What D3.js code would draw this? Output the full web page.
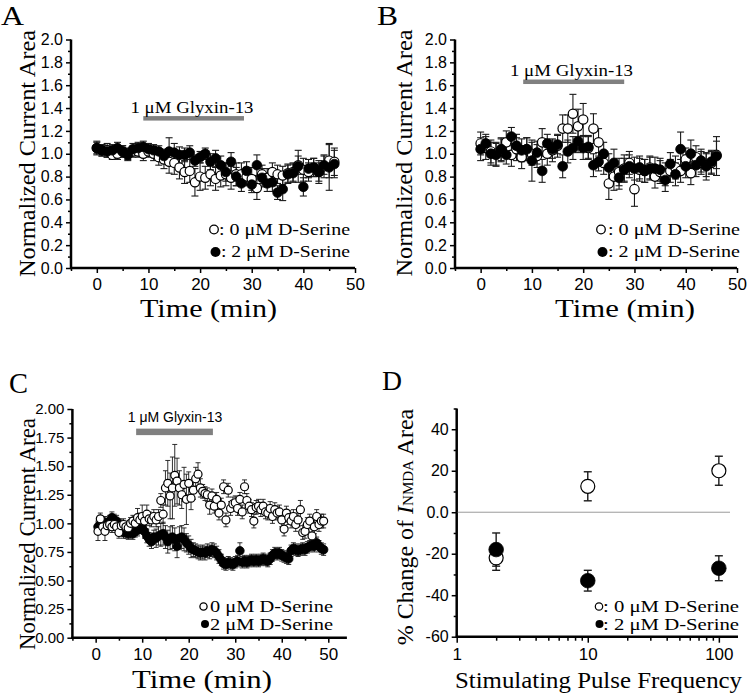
<!DOCTYPE html>
<html><head><meta charset="utf-8">
<script src="https://cdn.jsdelivr.net/npm/d3@7"></script>
<style>
body{margin:0;background:#fff}
svg{display:block}
</style></head><body>
<svg id="c" width="750" height="693"></svg>
<script>
// ---------------- DATA ----------------
const abTime = [0,1,2,3,4,5,6,7,8,9,10,11,12,13,14,15,16,17,18,19,20,21,22,23,24,25,26,27,28,29,30,31,32,33,34,35,36,37,38,39,40,41,42,43,44,45,46];
// Panel A
const aOpenVal = [1.05,1.03,1.03,0.99,1.00,1.02,1.00,1.02,1.02,1.00,1.02,1.00,0.97,0.95,0.93,0.92,0.88,0.84,0.85,0.75,0.80,0.79,0.82,0.78,0.81,0.82,0.79,0.82,0.82,0.80,0.78,0.70,0.82,0.79,0.84,0.82,0.81,0.83,0.84,0.90,0.86,0.84,0.88,0.84,0.89,0.94,0.93];
const aOpenErr = [0.06,0.05,0.06,0.04,0.05,0.05,0.05,0.05,0.05,0.06,0.05,0.06,0.07,0.08,0.10,0.10,0.10,0.10,0.10,0.12,0.12,0.10,0.10,0.10,0.10,0.10,0.10,0.10,0.10,0.08,0.10,0.10,0.08,0.08,0.08,0.08,0.08,0.08,0.08,0.08,0.10,0.08,0.08,0.10,0.10,0.15,0.12];
const aFillVal = [1.05,1.03,1.02,1.03,1.05,1.02,0.99,1.04,1.05,1.06,1.04,1.03,1.02,0.98,1.02,1.01,0.99,0.99,1.01,0.94,0.97,1.00,0.93,0.96,0.90,0.84,0.93,0.80,0.74,0.85,0.73,0.90,0.79,0.74,0.75,0.66,0.69,0.82,0.83,0.89,0.71,0.87,0.88,0.84,0.90,0.88,0.91];
const aFillErr = [0.05,0.05,0.05,0.05,0.05,0.05,0.05,0.05,0.05,0.05,0.05,0.05,0.05,0.06,0.12,0.08,0.07,0.06,0.06,0.05,0.05,0.05,0.07,0.07,0.08,0.08,0.08,0.08,0.07,0.08,0.07,0.09,0.08,0.07,0.08,0.06,0.10,0.08,0.08,0.14,0.08,0.08,0.08,0.08,0.08,0.20,0.12];
// Panel B
const bOpenVal = [1.09,1.05,1.02,1.00,1.03,1.10,0.99,1.04,0.97,1.04,1.00,0.98,1.10,1.00,1.03,1.07,1.22,1.22,1.35,1.24,1.30,1.05,1.22,1.10,0.92,0.74,0.80,0.84,0.87,0.92,0.69,0.86,0.85,0.88,0.80,0.84,0.82,0.85,0.88,0.85,0.95,0.83,0.97,0.92,0.90,0.92,0.99];
const bOpenErr = [0.10,0.10,0.10,0.10,0.10,0.10,0.10,0.10,0.10,0.10,0.10,0.10,0.12,0.10,0.10,0.10,0.12,0.12,0.17,0.15,0.14,0.10,0.13,0.12,0.10,0.14,0.12,0.12,0.12,0.10,0.15,0.10,0.10,0.10,0.10,0.10,0.10,0.10,0.10,0.10,0.10,0.10,0.10,0.10,0.10,0.10,0.12];
const bFillVal = [1.04,1.09,1.00,0.99,1.04,0.99,1.15,1.07,1.03,1.04,0.94,1.01,0.85,1.09,1.04,1.08,0.89,1.02,1.05,1.11,1.05,1.06,0.90,0.93,1.00,0.88,0.92,0.79,0.86,0.89,0.87,0.88,0.85,0.87,0.87,0.86,0.77,0.91,0.82,1.04,0.89,1.00,0.90,0.94,0.89,0.93,0.98];
const bFillErr = [0.10,0.08,0.10,0.10,0.10,0.08,0.08,0.10,0.10,0.10,0.18,0.10,0.10,0.08,0.08,0.08,0.10,0.10,0.10,0.10,0.10,0.10,0.10,0.08,0.10,0.12,0.12,0.10,0.10,0.10,0.10,0.10,0.10,0.10,0.10,0.10,0.10,0.10,0.10,0.15,0.10,0.12,0.10,0.10,0.12,0.10,0.17];
// Panel C
const cTime = [0.5,1,1.5,2,2.5,3,3.5,4,4.5,5,5.5,6,6.5,7,7.5,8,8.5,9,9.5,10,10.5,11,11.5,12,12.5,13,13.5,14,14.5,15,15.5,16,16.5,17,17.5,18,18.5,19,19.5,20,20.5,21,21.5,22,22.5,23,23.5,24,24.5,25,25.5,26,26.5,27,27.5,28,28.5,29,29.5,30,30.5,31,31.5,32,32.5,33,33.5,34,34.5,35,35.5,36,36.5,37,37.5,38,38.5,39,39.5,40,40.5,41,41.5,42,42.5,43,43.5,44,44.5,45,45.5,46,46.5,47,47.5,48,48.5,49];
const cOpenVal = [0.93,1.04,0.97,0.93,0.98,0.99,0.97,0.99,0.97,0.92,0.98,0.99,0.97,0.96,1.00,1.02,1.00,1.05,1.03,1.06,1.02,1.08,1.04,1.03,1.06,1.03,1.06,1.20,1.08,1.31,1.35,1.24,1.31,1.42,1.37,1.31,1.25,1.34,1.21,1.35,1.22,1.29,1.39,1.43,1.31,1.28,1.26,1.25,1.16,1.24,1.15,1.21,1.09,1.16,1.32,1.03,1.29,1.13,1.17,1.18,1.13,1.21,1.10,1.32,1.20,1.15,1.12,1.02,1.14,1.15,1.12,1.15,1.10,1.09,1.13,1.06,1.12,1.09,1.10,1.03,0.95,1.09,1.05,1.02,1.06,0.99,1.03,1.12,0.92,0.93,0.99,1.02,0.89,0.97,1.06,0.99,1.02,1.02];
const cOpenErr = [0.08,0.05,0.05,0.08,0.05,0.05,0.05,0.05,0.05,0.05,0.05,0.05,0.05,0.05,0.05,0.05,0.06,0.08,0.06,0.10,0.06,0.08,0.06,0.06,0.06,0.06,0.06,0.06,0.08,0.15,0.20,0.20,0.27,0.27,0.20,0.15,0.12,0.15,0.22,0.10,0.10,0.08,0.10,0.10,0.08,0.06,0.06,0.06,0.08,0.06,0.06,0.06,0.06,0.06,0.06,0.06,0.06,0.06,0.06,0.06,0.06,0.06,0.06,0.06,0.06,0.06,0.06,0.06,0.06,0.06,0.06,0.06,0.06,0.06,0.06,0.06,0.06,0.06,0.06,0.06,0.06,0.06,0.06,0.06,0.06,0.06,0.06,0.08,0.06,0.06,0.06,0.06,0.06,0.06,0.06,0.06,0.06,0.06];
const cFillVal = [0.97,0.99,1.00,1.01,0.99,1.02,1.05,1.03,1.02,0.99,0.94,0.92,0.92,0.91,0.92,0.91,0.93,0.94,0.96,0.98,0.93,0.89,0.86,0.84,0.88,0.87,0.89,0.90,0.91,0.88,0.84,0.87,0.88,0.86,0.80,0.87,0.88,0.86,0.83,0.81,0.78,0.77,0.76,0.75,0.74,0.75,0.74,0.76,0.75,0.77,0.76,0.74,0.71,0.68,0.65,0.64,0.66,0.65,0.64,0.66,0.67,0.76,0.66,0.67,0.66,0.67,0.68,0.67,0.68,0.67,0.68,0.69,0.68,0.67,0.69,0.72,0.74,0.73,0.74,0.72,0.71,0.70,0.69,0.76,0.78,0.77,0.76,0.77,0.78,0.77,0.79,0.80,0.81,0.80,0.83,0.80,0.78,0.77];
const cFillErr = [0.05,0.05,0.05,0.05,0.05,0.05,0.05,0.05,0.05,0.05,0.05,0.05,0.05,0.05,0.05,0.05,0.05,0.05,0.05,0.05,0.06,0.06,0.06,0.06,0.06,0.08,0.08,0.10,0.10,0.10,0.10,0.10,0.10,0.10,0.10,0.10,0.10,0.10,0.08,0.08,0.08,0.06,0.06,0.06,0.06,0.06,0.06,0.06,0.06,0.06,0.06,0.06,0.06,0.05,0.05,0.05,0.05,0.05,0.05,0.05,0.05,0.07,0.05,0.05,0.05,0.05,0.05,0.05,0.05,0.05,0.05,0.05,0.05,0.05,0.05,0.05,0.05,0.05,0.05,0.05,0.05,0.05,0.05,0.05,0.05,0.05,0.05,0.05,0.05,0.05,0.05,0.05,0.05,0.05,0.05,0.05,0.05,0.05];
// Panel D
const dFreq = [2,10,100];
const dOpenVal = [-22,12.5,20];
const dOpenErr = [6,7,7];
const dFillVal = [-18,-33,-27];
const dFillErr = [8,5,6];
// Labels
const yTicksAB = [0,0.2,0.4,0.6,0.8,1.0,1.2,1.4,1.6,1.8,2.0];
const yTicksC = [0,0.25,0.5,0.75,1.0,1.25,1.5,1.75,2.0];
const xTicksAB = [0,10,20,30,40,50];
const yTicksD = [-60,-40,-20,0,20,40];
const xTicksD = [1,10,100];
const legendOpen = "0 μM D-Serine";
const legendFill = "2 μM D-Serine";
const drugLabel = "1 μM Glyxin-13";

// ---------------- DRAW ----------------
const SANS = '"Liberation Sans", Arial, sans-serif';
const SERIF = '"Liberation Serif", "Times New Roman", serif';
const svg = d3.select("#c");

function stext(p, x, y, str, size, len, opts = {}) {
  const t = p.append("text").attr("x", x).attr("y", y)
    .attr("font-family", opts.family || SERIF).attr("font-size", size)
    .attr("fill", "#000").text(str);
  if (len) t.attr("textLength", len).attr("lengthAdjust", "spacingAndGlyphs");
  if (opts.anchor) t.attr("text-anchor", opts.anchor);
  return t;
}

function axes(g, x, y, o) {
  const [x0, x1] = x.range();
  const [yb, yt] = y.range();
  g.append("g").attr("transform", `translate(${x0},0)`)
    .call(d3.axisLeft(y).tickValues(o.yMinor).tickSize(3).tickFormat(""))
    .call(s => s.select(".domain").remove());
  g.append("g").attr("transform", `translate(0,${yb})`)
    .call(d3.axisBottom(x).tickValues(o.xMinor).tickSize(o.xMinorLen || 3).tickFormat(""))
    .call(s => s.select(".domain").remove());
  const ya = g.append("g").attr("transform", `translate(${x0},0)`)
    .call(d3.axisLeft(y).tickValues(o.yTicks).tickSize(5).tickPadding(3).tickFormat(o.yFmt))
    .call(s => s.select(".domain").remove());
  ya.selectAll("text").attr("font-family", SANS).attr("font-size", o.yFont).attr("fill", "#000");
  const xa = g.append("g").attr("transform", `translate(0,${yb})`)
    .call(d3.axisBottom(x).tickValues(o.xTicks).tickSize(o.xMajorLen || 5).tickPadding(o.xPad || 5).tickFormat(d3.format("d")))
    .call(s => s.select(".domain").remove());
  xa.selectAll("text").attr("font-family", SANS).attr("font-size", o.xFont).attr("fill", "#000");
  g.selectAll(".tick line").attr("stroke", "#000").attr("stroke-width", 1.5);
  g.append("line").attr("x1", x0).attr("x2", x0).attr("y1", yb + 1).attr("y2", yt).attr("stroke", "#000").attr("stroke-width", 2.5);
  g.append("line").attr("x1", x0 - 1).attr("x2", x1).attr("y1", yb).attr("y2", yb).attr("stroke", "#000").attr("stroke-width", 2.5);
}

function errorBars(g, x, y, t, v, e, cap, sw) {
  const d = t.map((tt, i) => ({ t: tt, v: v[i], e: e[i] }));
  const eg = g.append("g").attr("stroke", "#1a1a1a").attr("stroke-width", sw || 1.1);
  eg.selectAll(".v").data(d).join("line")
    .attr("x1", d => x(d.t)).attr("x2", d => x(d.t))
    .attr("y1", d => y(d.v - d.e)).attr("y2", d => y(d.v + d.e));
  eg.selectAll(".ct").data(d).join("line").attr("class", "ct")
    .attr("x1", d => x(d.t) - cap / 2).attr("x2", d => x(d.t) + cap / 2)
    .attr("y1", d => y(d.v + d.e)).attr("y2", d => y(d.v + d.e));
  eg.selectAll(".cb").data(d).join("line").attr("class", "cb")
    .attr("x1", d => x(d.t) - cap / 2).attr("x2", d => x(d.t) + cap / 2)
    .attr("y1", d => y(d.v - d.e)).attr("y2", d => y(d.v - d.e));
}

function markers(g, x, y, t, v, r, open) {
  g.append("g").selectAll("circle").data(t.map((tt, i) => [tt, v[i]])).join("circle")
    .attr("cx", d => x(d[0])).attr("cy", d => y(d[1])).attr("r", r)
    .attr("fill", open ? "#fff" : "#000").attr("stroke", "#000").attr("stroke-width", open ? 1.2 : 0.8);
}

function drugBar(g, x, y, t0, t1, lvl, h) {
  g.append("rect").attr("x", x(t0)).attr("width", x(t1) - x(t0))
    .attr("y", y(lvl) - h / 2).attr("height", h).attr("fill", "#808080");
}

function ylabel(g, cx, cy, str, size, len) {
  stext(g, 0, 0, str, size, len, { anchor: "middle" })
    .attr("transform", `translate(${cx},${cy}) rotate(-90)`);
}

// ---- Panel A ----
{
  const g = svg.append("g");
  const x = d3.scaleLinear().domain([-5, 50]).range([71, 355]);
  const y = d3.scaleLinear().domain([0, 2]).range([268, 39.5]);
  axes(g, x, y, { yTicks: yTicksAB, yMinor: d3.range(0.1, 2, 0.2), xTicks: xTicksAB, xMinor: [-5, 5, 15, 25, 35, 45],
    yFmt: d3.format(".1f"), yFont: 16, xFont: 17 });
  errorBars(g, x, y, abTime, aOpenVal, aOpenErr, 7);
  errorBars(g, x, y, abTime, aFillVal, aFillErr, 7);
  markers(g, x, y, abTime, aOpenVal, 4.6, true);
  markers(g, x, y, abTime, aFillVal, 4.8, false);
  drugBar(g, x, y, 9.0, 28.5, 1.31, 4.5);
  stext(g, 130.5, 113, drugLabel, 16, 123);
  g.append("circle").attr("cx", 214).attr("cy", 229.5).attr("r", 4.3).attr("fill", "#fff").attr("stroke", "#000").attr("stroke-width", 1.3);
  stext(g, 219, 234.5, ": " + legendOpen, 16, 131);
  g.append("circle").attr("cx", 215.5).attr("cy", 252).attr("r", 5).attr("fill", "#000");
  stext(g, 221, 257, ": " + legendFill, 16, 129);
  stext(g, 140, 317, "Time (min)", 25, 137);
  ylabel(g, 35, 153.5, "Normalized Current Area", 24, 247);
  stext(g, 1, 25, "A", 28, 23);
}

// ---- Panel B ----
{
  const g = svg.append("g");
  const x = d3.scaleLinear().domain([-5, 50]).range([455, 737]);
  const y = d3.scaleLinear().domain([0, 2]).range([268, 39.5]);
  axes(g, x, y, { yTicks: yTicksAB, yMinor: d3.range(0.1, 2, 0.2), xTicks: xTicksAB, xMinor: [-5, 5, 15, 25, 35, 45],
    yFmt: d3.format(".1f"), yFont: 16, xFont: 17 });
  errorBars(g, x, y, abTime, bOpenVal, bOpenErr, 7);
  errorBars(g, x, y, abTime, bFillVal, bFillErr, 7);
  markers(g, x, y, abTime, bOpenVal, 4.7, true);
  markers(g, x, y, abTime, bFillVal, 4.9, false);
  drugBar(g, x, y, 8.3, 28.0, 1.63, 4.5);
  stext(g, 510, 76, drugLabel, 16, 123);
  g.append("circle").attr("cx", 601).attr("cy", 229.5).attr("r", 4.3).attr("fill", "#fff").attr("stroke", "#000").attr("stroke-width", 1.3);
  stext(g, 608, 234.5, " : " + legendOpen, 16, 132);
  g.append("circle").attr("cx", 602.5).attr("cy", 252).attr("r", 5).attr("fill", "#000");
  stext(g, 608, 257, " : " + legendFill, 16, 132);
  stext(g, 555, 317, "Time (min)", 25, 140);
  ylabel(g, 412, 153, "Normalized Current Area", 24, 247);
  stext(g, 377, 25, "B", 28, 21);
}

// ---- Panel C ----
{
  const g = svg.append("g");
  const x = d3.scaleLinear().domain([-5, 54]).range([72.4, 346.9]);
  const y = d3.scaleLinear().domain([0, 2]).range([637.7, 409]);
  axes(g, x, y, { yTicks: yTicksC, yMinor: d3.range(0.125, 2, 0.25), xTicks: xTicksAB, xMinor: [-5, 5, 15, 25, 35, 45],
    yFmt: d3.format(".2f"), yFont: 15, xFont: 17 });
  errorBars(g, x, y, cTime, cFillVal, cFillErr, 5, 0.9);
  errorBars(g, x, y, cTime, cOpenVal, cOpenErr, 5, 0.9);
  markers(g, x, y, cTime, cFillVal, 4.3, false);
  markers(g, x, y, cTime, cOpenVal, 4.0, true);
  drugBar(g, x, y, 8.7, 25.2, 1.80, 6.5);
  stext(g, 175, 421.5, drugLabel, 14, null, { family: SANS, anchor: "middle" });
  g.append("circle").attr("cx", 203.5).attr("cy", 606.5).attr("r", 3.6).attr("fill", "#fff").attr("stroke", "#000").attr("stroke-width", 1.3);
  stext(g, 210, 612, legendOpen, 16, 123);
  g.append("circle").attr("cx", 205).attr("cy", 624).attr("r", 4).attr("fill", "#000");
  stext(g, 210, 629.5, legendFill, 16, 123);
  stext(g, 132, 688, "Time (min)", 25, 140);
  ylabel(g, 35, 534, "Normalized Current Area", 23, 232);
  stext(g, 9, 393, "C", 29, 19);
}

// ---- Panel D ----
{
  const g = svg.append("g");
  const x = d3.scaleLog().domain([1, 140]).range([456.7, 738]);
  const y = d3.scaleLinear().domain([-60, 50]).range([636.7, 408.5]);
  const minorX = [2,3,4,5,6,7,8,9,20,30,40,50,60,70,80,90];
  axes(g, x, y, { yTicks: yTicksD, yMinor: [-50, -30, -10, 10, 30, 50], xTicks: xTicksD, xMinor: minorX,
    yFmt: d => d === 0 ? "0.0" : String(d), yFont: 16, xFont: 17, xMinorLen: 4, xMajorLen: 6, xPad: 5 });
  g.append("line").attr("x1", x(1) + 1).attr("x2", 730).attr("y1", y(0)).attr("y2", y(0)).attr("stroke", "#9a9a9a").attr("stroke-width", 1);
  errorBars(g, x, y, dFreq, dOpenVal, dOpenErr, 8, 1.4);
  errorBars(g, x, y, dFreq, dFillVal, dFillErr, 8, 1.4);
  markers(g, x, y, dFreq, dOpenVal, 7, true);
  markers(g, x, y, dFreq, dFillVal, 7.3, false);
  g.append("circle").attr("cx", 599).attr("cy", 606.5).attr("r", 3.7).attr("fill", "#fff").attr("stroke", "#000").attr("stroke-width", 1.2);
  stext(g, 603, 612, ": " + legendOpen, 16, 136);
  g.append("circle").attr("cx", 599.5).attr("cy", 624).attr("r", 4).attr("fill", "#000");
  stext(g, 603, 629.5, ": " + legendFill, 16, 136);
  stext(g, 455, 688, "Stimulating Pulse Frequency", 24, 287);
  const t = g.append("text").attr("font-family", SERIF).attr("font-size", 24).attr("text-anchor", "middle")
    .attr("transform", "translate(413,527) rotate(-90)");
  t.append("tspan").text("% Change of ");
  t.append("tspan").attr("font-style", "italic").text("I");
  t.append("tspan").attr("font-size", 15).text("NMDA");
  t.append("tspan").text(" Area");
  stext(g, 382, 390, "D", 28, 20);
}
</script>
</body></html>
